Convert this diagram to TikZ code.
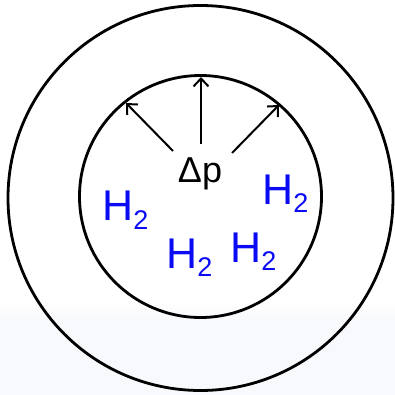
\documentclass[tikz,border=0pt]{standalone}
\usepackage{fontspec}
\setmainfont{Liberation Sans}
\usetikzlibrary{arrows.meta}
\definecolor{hblue}{RGB}{10,10,245}
\definecolor{bgfade}{RGB}{248,249,252}
\begin{document}
\begin{tikzpicture}[x=1pt,y=-1pt,
  ring/.style={circle,draw=black,line width=2.8pt,inner sep=0pt,outer sep=0pt},
  push/.style={line width=2pt,-{Straight Barb[length=8pt,width=15pt,line width=2pt]}},
  gas/.style={anchor=base west,inner sep=0pt,text=hblue,font=\fontsize{43}{43}\selectfont},
  lbl/.style={anchor=base,inner sep=0pt,font=\fontsize{36}{36}\selectfont}]
\useasboundingbox (0,0) rectangle (395,395);
\shade[top color=white,bottom color=bgfade] (0,300) rectangle (395,320);
\fill[bgfade] (0,320) rectangle (395,395);
\node[ring,minimum size=385pt] (outer) at (200.5,198) {};
\node[ring,minimum size=242pt] (inner) at (200.5,196.5) {};
\node[lbl] (dp) at (200,182.5) {Δp};
\coordinate (s1) at (173,151);
\coordinate (s2) at (201,144);
\coordinate (s3) at (232,153);
\coordinate (t1) at (126,103);
\coordinate (t2) at (201,77);
\coordinate (t3) at (279,105);
\draw[push] (s1) -- (t1);
\draw[push] (s2) -- (t2);
\draw[push] (s3) -- (t3);
\newcommand{\hydro}{H\raisebox{-8.5pt}{\fontsize{27}{27}\selectfont 2}}
\node[gas] (h1) at (102,220.7) {\hydro};
\node[gas] (h2) at (166,268) {\hydro};
\node[gas] (h3) at (230,262) {\hydro};
\node[gas] (h4) at (262,204) {\hydro};
\end{tikzpicture}
\end{document}
